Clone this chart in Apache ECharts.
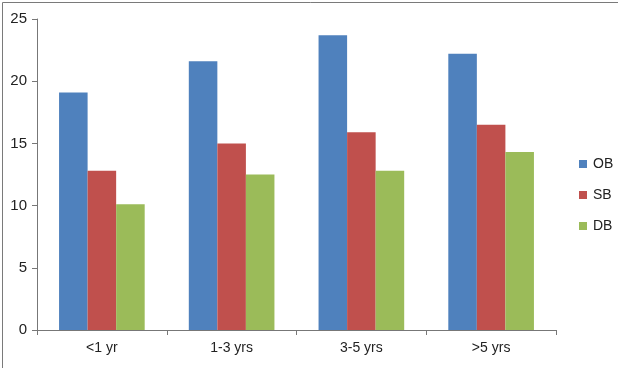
<!DOCTYPE html>
<html>
<head>
<meta charset="utf-8">
<script src="https://cdn.jsdelivr.net/npm/echarts@6/dist/echarts.min.js"></script>
<style>
html,body{margin:0;padding:0;background:#fff;}
#c{width:618px;height:368px;}
</style>
</head>
<body>
<div id="c"></div>
<script>
var categories = ['<1 yr', '1-3 yrs', '3-5 yrs', '>5 yrs'];
var seriesNames = ['OB', 'SB', 'DB'];
var obValues = [19.1, 21.6, 23.7, 22.2];
var sbValues = [12.8, 15.0, 15.9, 16.5];
var dbValues = [10.1, 12.5, 12.8, 14.3];
var yTicks = [0, 5, 10, 15, 20, 25];

var colors = ['#4F81BD', '#C0504D', '#9BBB59'];
var font = 'Liberation Sans, Arial, sans-serif';
var chart = echarts.init(document.getElementById('c'));
var allValues = [obValues, sbValues, dbValues];
chart.setOption({
  animation: false,
  color: colors,
  graphic: [{
    type: 'rect', left: 0, top: 0,
    shape: {x: 0.5, y: 0.5, width: 617, height: 367},
    style: {fill: 'none', stroke: '#7a7a7a', lineWidth: 1},
    silent: true, z: 100
  }],
  grid: {left: 37, right: 62, top: 19, bottom: 38},
  legend: {
    orient: 'vertical',
    left: 574, top: 152,
    itemWidth: 8, itemHeight: 8, itemGap: 17,
    icon: 'rect',
    data: seriesNames,
    textStyle: {fontFamily: font, fontSize: 14, color: '#222', padding: [0, 0, 0, 1]}
  },
  xAxis: {
    type: 'category',
    data: categories,
    axisLine: {lineStyle: {color: '#777', width: 1}},
    axisTick: {show: true, length: 5, lineStyle: {color: '#777'}},
    axisLabel: {fontFamily: font, fontSize: 14, color: '#222', margin: 11}
  },
  yAxis: {
    type: 'value',
    min: yTicks[0], max: yTicks[yTicks.length - 1], interval: 5,
    axisLine: {show: true, lineStyle: {color: '#777', width: 1}},
    axisTick: {show: true, length: 5, lineStyle: {color: '#777'}},
    splitLine: {show: false},
    axisLabel: {fontFamily: font, fontSize: 15, color: '#222', margin: 10}
  },
  series: seriesNames.map(function (n, i) {
    return {
      name: n, type: 'bar', data: allValues[i],
      barGap: '0%', barCategoryGap: '34%'
    };
  })
});
</script>
</body>
</html>
